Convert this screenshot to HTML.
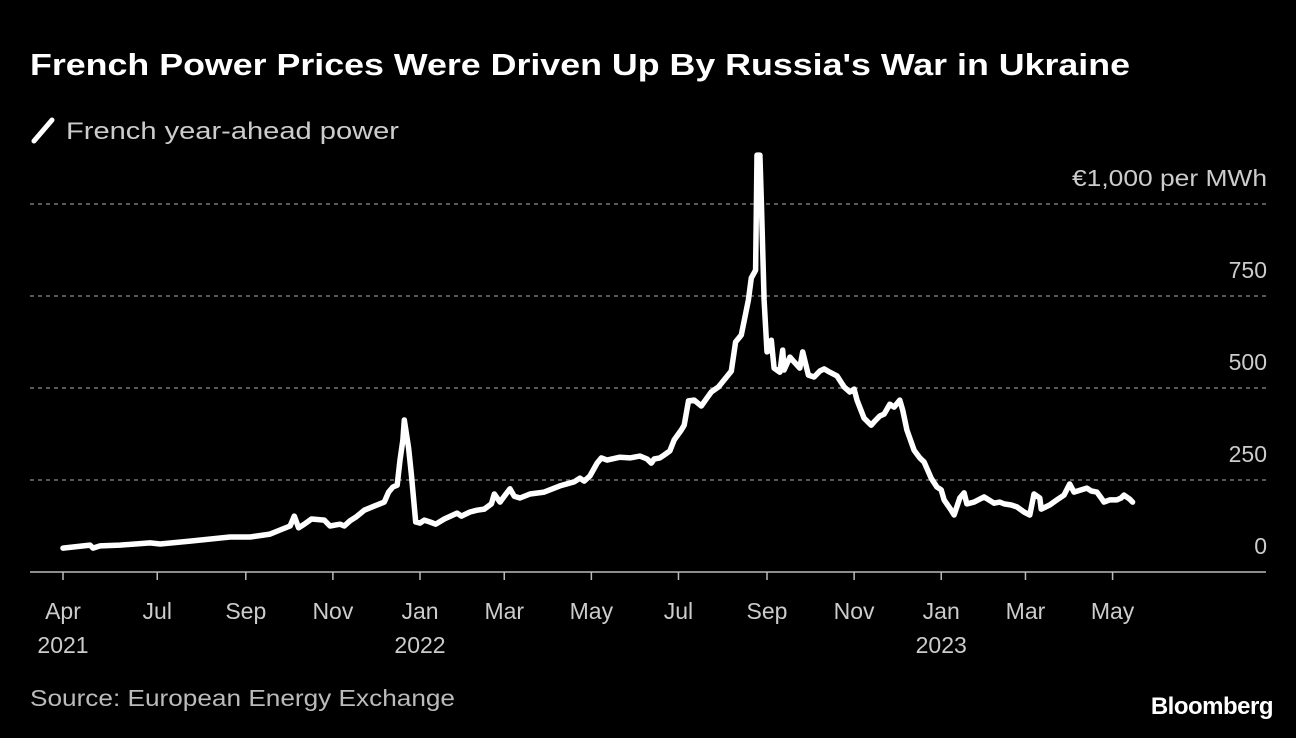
<!DOCTYPE html>
<html><head><meta charset="utf-8"><style>
body{margin:0;background:#000;width:1296px;height:738px;overflow:hidden;font-family:"Liberation Sans",sans-serif;color:#fff}
svg{display:block}
</style></head><body>
<svg width="1296" height="738" id="c">
<text x="30" y="75" font-size="31" font-weight="bold" fill="#fff" textLength="1100" lengthAdjust="spacingAndGlyphs">French Power Prices Were Driven Up By Russia's War in Ukraine</text>
<line x1="34" y1="141" x2="52" y2="120" stroke="#fff" stroke-width="5" stroke-linecap="round"/>
<text x="66" y="139" font-size="24" fill="#ccc" textLength="333" lengthAdjust="spacingAndGlyphs">French year-ahead power</text>
<g id="grid"></g><g id="xax"></g>
<path id="line" fill="none" stroke="#fff" stroke-width="5.5" stroke-linejoin="round" stroke-linecap="round"/>
<text x="30" y="706" font-size="23" fill="#bbb" textLength="425" lengthAdjust="spacingAndGlyphs">Source: European Energy Exchange</text>
<text x="1273" y="714" font-size="24" font-weight="bold" fill="#fff" text-anchor="end" letter-spacing="-0.5">Bloomberg</text>
</svg>
<script>
// days since 2021-04-26
const days=[0,19,21,26,40,61,68,89,117,131,145,152,159,162,165,169,174,183,187,194,197,201,205,211,218,225,228,231,234,236,238,239,242,244,247,250,253,257,261,267,276,279,285,290,295,300,302,306,309,313,316,320,327,337,348,358,362,365,369,374,377,381,390,397,404,409,412,414,418,421,425,428,433,435,438,442,447,451,454,459,463,468,471,475,480,482,485,486,488,489,491,493,495,496,498,502,504,505,509,512,516,518,522,526,530,533,537,542,547,551,554,556,561,566,568,572,575,579,582,586,588,591,596,600,603,608,612,615,617,622,624,628,631,633,638,645,652,656,659,664,668,673,677,680,684,685,691,696,701,705,708,713,717,720,724,727,729,733,738,741,743,747,749];
const prices=[65,73,65,71,73,79,76,84,95,95,103,114,125,152,120,130,144,141,125,130,125,139,149,168,179,190,217,231,236,304,359,413,337,264,136,133,141,136,130,144,160,152,163,168,171,185,212,190,206,226,206,201,212,217,234,245,255,247,261,296,310,304,312,310,315,307,296,307,310,318,329,359,386,399,465,467,451,473,489,503,522,546,625,644,739,799,820,1133,1133,1011,739,598,603,630,554,543,603,549,584,571,554,598,535,530,546,552,543,533,503,489,497,467,418,399,408,424,429,456,448,467,440,386,331,310,299,255,231,223,196,168,155,201,215,185,190,204,187,190,185,182,177,163,155,212,201,171,182,196,209,239,217,223,228,220,217,201,190,196,196,201,209,198,190];
const yTicks=[0,250,500,750,1000];
const yTickLabels=["0","250","500","750","€1,000 per MWh"];
const xTickDays=[0,66,128,189,250,309,370,431,493,554,615,674,735];
const xTickLabels=["Apr","Jul","Sep","Nov","Jan","Mar","May","Jul","Sep","Nov","Jan","Mar","May"];
const xYearLabels=["2021","","","","2022","","","","","","2023","",""];
const X=d=>63+d*1.428, Y=v=>572-v*0.368;
const NS="http://www.w3.org/2000/svg";
const grid=document.getElementById('grid'), xax=document.getElementById('xax');
function mk(tag,attrs,parent,txt){const e=document.createElementNS(NS,tag);for(const k in attrs)e.setAttribute(k,attrs[k]);if(txt!==undefined)e.textContent=txt;parent.appendChild(e);return e;}
yTicks.forEach((v,i)=>{
  if(v>0){const l=mk('line',{x1:30,x2:1266,y1:Y(v),y2:Y(v),stroke:'#777','stroke-width':1.5,'stroke-dasharray':'4 4'},grid);
  
  }
  const attrs={x:1267,y:Y(v)-18,'font-size':23,fill:'#ccc','text-anchor':'end'};
  if(v===1000){attrs.textLength=195;attrs.lengthAdjust='spacingAndGlyphs';}
  const t=mk('text',attrs,grid,yTickLabels[i]);
  
  
});
const ax=mk('line',{x1:30,x2:1266,y1:572,y2:572,stroke:'#bbb','stroke-width':1.5},xax);


xTickDays.forEach((d,i)=>{
  const tk=mk('line',{x1:X(d),x2:X(d),y1:572,y2:580,stroke:'#bbb','stroke-width':1.5},xax);
  
  
  const t=mk('text',{x:X(d),y:619,'font-size':23,fill:'#ccc','text-anchor':'middle'},xax,xTickLabels[i]);
  
  
  if(xYearLabels[i]){const y=mk('text',{x:X(d),y:653,'font-size':23,fill:'#ccc','text-anchor':'middle'},xax,xYearLabels[i]);
  
  }
});
document.getElementById('line').setAttribute('d',days.map((d,i)=>(i?'L':'M')+X(d).toFixed(1)+','+Y(prices[i]).toFixed(1)).join(''));
</script>
</body></html>
